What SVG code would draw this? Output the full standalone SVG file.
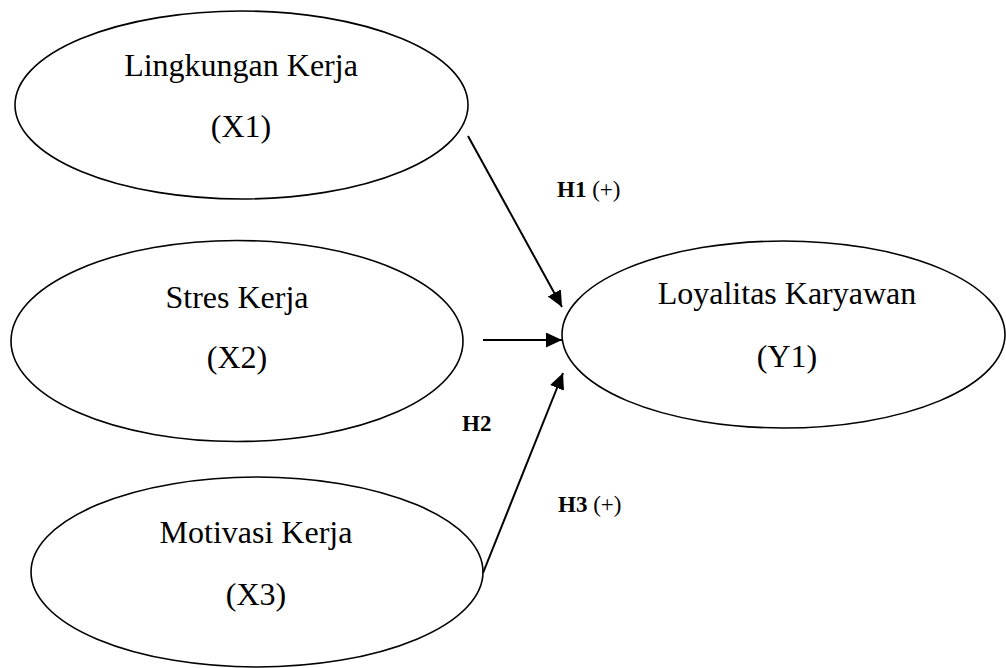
<svg xmlns="http://www.w3.org/2000/svg" width="1006" height="668" viewBox="0 0 1006 668">
<style>
.node{fill:#fff;stroke:#000;stroke-width:1.6}
.t{font-family:"Liberation Serif","Times New Roman",serif;font-size:32px;fill:#000;text-anchor:middle}
.lbl{font-family:"Liberation Serif","Times New Roman",serif;font-size:23px;fill:#000}
.b{font-weight:bold}
.edge{stroke:#000;stroke-width:2;fill:none}
</style>
<defs>
<marker id="ah" markerUnits="userSpaceOnUse" markerWidth="17" markerHeight="16" refX="16" refY="7.5" orient="auto">
<path d="M0,0 L16,7.5 L0,15 z" fill="#000"/>
</marker>
</defs>
<rect width="1006" height="668" fill="#fff"/>
<g id="x1">
<ellipse class="node" cx="241.5" cy="105" rx="226.5" ry="94"/>
<text class="t" x="241" y="76">Lingkungan Kerja</text>
<text class="t" x="241" y="137">(X1)</text>
</g>
<g id="x2">
<ellipse class="node" cx="237" cy="341" rx="226" ry="100.5"/>
<text class="t" x="237" y="308">Stres Kerja</text>
<text class="t" x="237" y="368">(X2)</text>
</g>
<g id="x3">
<ellipse class="node" cx="257" cy="572" rx="226" ry="95"/>
<text class="t" x="256" y="543">Motivasi Kerja</text>
<text class="t" x="256" y="605">(X3)</text>
</g>
<g id="y1">
<ellipse class="node" cx="783.5" cy="334.5" rx="221.5" ry="93.5"/>
<text class="t" x="787" y="304">Loyalitas Karyawan</text>
<text class="t" x="787" y="367">(Y1)</text>
</g>
<g id="edges">
<line class="edge" x1="468" y1="136" x2="562" y2="307" marker-end="url(#ah)"/>
<line class="edge" x1="483" y1="340" x2="562" y2="340" marker-end="url(#ah)"/>
<line class="edge" x1="483" y1="573" x2="563" y2="373" marker-end="url(#ah)"/>
</g>
<g id="labels">
<text class="lbl" x="557" y="197"><tspan class="b">H1</tspan> (+)</text>
<text class="lbl b" x="462" y="431">H2</text>
<text class="lbl" x="558" y="512"><tspan class="b">H3</tspan> (+)</text>
</g>
</svg>
